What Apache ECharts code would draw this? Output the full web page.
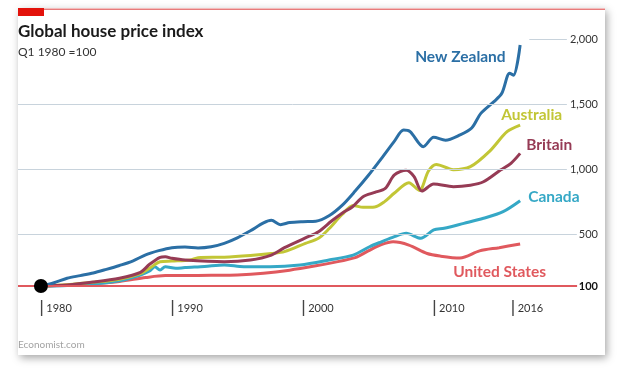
<!DOCTYPE html>
<html>
<head>
<meta charset="utf-8">
<script src="https://cdn.jsdelivr.net/npm/echarts@6/dist/echarts.min.js"></script>
<style>
  html, body { margin: 0; padding: 0; background: #fff; }
  #chart { width: 623px; height: 376px; }
</style>
</head>
<body>
<div id="chart"></div>
<script>
// Index values, Q1 1980 = 100 as [year, value]
const newZealand = [
  [1980, 100], [1981, 125], [1982, 160], [1983, 180], [1984, 200], [1985, 228],
  [1986, 258], [1987, 292], [1988, 340], [1989, 372], [1990, 395], [1991, 400],
  [1992, 393], [1993, 402], [1994, 428], [1995, 470], [1996, 525], [1997, 585],
  [1997.6, 605], [1998.3, 572], [1999, 588], [2000, 595], [2001, 598], [2002, 640],
  [2003, 720], [2004, 830], [2005, 950], [2006, 1080], [2007, 1215], [2007.7, 1300],
  [2008.2, 1288], [2009.2, 1172], [2010, 1244], [2010.9, 1222], [2012, 1262],
  [2012.9, 1315], [2013.6, 1428], [2014.6, 1518], [2015.2, 1582], [2015.8, 1736],
  [2016.1, 1722], [2016.6, 1954]
];
const australia = [
  [1980, 100], [1982, 110], [1984, 128], [1986, 152], [1987.6, 195], [1988.3, 236],
  [1989.1, 287], [1990, 292], [1991.4, 300], [1992, 318], [1994, 322], [1996, 335],
  [1997.6, 350], [1998.6, 364], [2000.2, 428], [2001.2, 467], [2002, 540], [2003, 650],
  [2003.85, 720], [2004.6, 705], [2005.5, 708], [2006.2, 745], [2007, 815], [2008.1, 895],
  [2008.9, 835], [2009.6, 985], [2010.2, 1035], [2011.5, 995], [2012.8, 1018], [2014.3, 1140],
  [2015.6, 1287], [2016.6, 1338]
];
const britain = [
  [1980, 100], [1982, 108], [1984, 130], [1986, 160], [1987.6, 205], [1988.3, 267],
  [1989.1, 320], [1989.5, 325], [1990, 313], [1991, 300], [1994, 287], [1996, 300],
  [1997.6, 338], [1998.6, 395], [2000.2, 470], [2001.2, 518], [2002.2, 600], [2003, 660],
  [2003.8, 710], [2004.6, 787], [2005.5, 820], [2006.3, 851], [2007, 955], [2007.9, 990],
  [2008.5, 941], [2009.1, 830], [2010, 885], [2011.5, 864], [2012.8, 875], [2013.8, 902],
  [2015.1, 992], [2015.9, 1044], [2016.6, 1120]
];
const canada = [
  [1980, 100], [1982, 104], [1984, 115], [1986, 140], [1987.6, 185], [1988.3, 215],
  [1988.7, 248], [1989.1, 223], [1989.5, 248], [1990.3, 236], [1991, 242], [1992.5, 250],
  [1994, 262], [1995.5, 248], [1997.5, 248], [1999.8, 262], [2002, 300], [2003.85, 338],
  [2005.1, 402], [2006, 440], [2007, 480], [2007.9, 505], [2009, 467], [2010, 531],
  [2010.8, 544], [2012.3, 582], [2013.8, 621], [2015.3, 672], [2016.6, 756]
];
const unitedStates = [
  [1980, 100], [1982, 106], [1984, 118], [1986, 135], [1988, 165], [1989.5, 180],
  [1991, 180], [1993, 182], [1995, 185], [1997, 198], [1999, 222], [2001, 255],
  [2002.2, 278], [2004, 318], [2005, 370], [2006, 418], [2006.9, 440], [2008.1, 415],
  [2009.5, 350], [2010.5, 330], [2012, 315], [2013.5, 370], [2015, 395], [2016.6, 423]
];
const baseYear = [[1980, 100]];

const yearLabels = [1980, 1990, 2000, 2010, 2016];
const yLabels = [500, 1000, 1500, 2000];

const X_MIN = 1978.25;
const X_MAX = 2022.7;
// horizontal rules: value, and where each starts and stops on the year axis
const rules = [
  { y: 100, from: X_MIN, to: 2020.95, color: '#e0595e', width: 2 },
  { y: 500, from: X_MIN, to: 2020.93, color: '#c8d3dc', width: 1 },
  { y: 1000, from: X_MIN, to: 2020.17, color: '#c8d3dc', width: 1 },
  { y: 1500, from: X_MIN, to: 2020.17, color: '#c8d3dc', width: 1 },
  { y: 2000, from: 2017.3, to: 2020.17, color: '#c8d3dc', width: 1 }
];

const FONT = 'Lato, "Open Sans", sans-serif';
const hidden = { show: false };

const chart = echarts.init(document.getElementById('chart'));

function countryLine(name, data, color, offset) {
  return {
    name: name,
    type: 'line',
    data: data,
    smooth: 0.3,
    showSymbol: false,
    lineStyle: { color: color, width: 3 },
    itemStyle: { color: color },
    endLabel: {
      show: true,
      formatter: name,
      color: color,
      fontFamily: FONT,
      fontWeight: 'bold',
      fontSize: 15.5,
      offset: offset
    }
  };
}

chart.setOption({
  animation: false,
  textStyle: { fontFamily: FONT },
  graphic: [
    {
      type: 'rect', z: -10, silent: true,
      shape: { x: 18, y: 8, width: 587, height: 347 },
      style: { fill: '#fff', shadowBlur: 8, shadowColor: 'rgba(0,0,0,0.35)', shadowOffsetX: 2, shadowOffsetY: 3 }
    },
    { type: 'rect', z: -9, silent: true, shape: { x: 18, y: 8.5, width: 587, height: 1.5 }, style: { fill: '#e77b7b' } },
    { type: 'rect', z: -9, silent: true, shape: { x: 18, y: 8, width: 26, height: 8 }, style: { fill: '#e3120b' } }
  ],
  title: [
    {
      text: 'Global house price index',
      subtext: 'Q1 1980 =100',
      left: 18, top: 23, padding: 0, itemGap: 6,
      textStyle: { fontFamily: FONT, fontSize: 17, fontWeight: 'bold', color: '#1a1a1a' },
      subtextStyle: { fontFamily: FONT, fontSize: 12, color: '#333' }
    },
    {
      text: 'Economist.com',
      left: 18, top: 340, padding: 0,
      textStyle: { fontFamily: FONT, fontSize: 10, fontWeight: 'normal', color: '#a3a3a3' }
    }
  ],
  grid: { left: 18, right: 23, top: 39, bottom: 77 },
  xAxis: {
    type: 'value',
    min: X_MIN,
    max: X_MAX,
    interval: 0.25,
    axisLine: hidden,
    axisTick: hidden,
    splitLine: hidden,
    axisLabel: {
      margin: 1,
      align: 'left',
      formatter: v => yearLabels.includes(v) ? '{bar|}{t|' + v + '}' : '',
      rich: {
        bar: { width: 1.4, height: 16, backgroundColor: '#444' },
        t: { padding: [0, 0, 0, 4], fontSize: 11, color: '#333', fontFamily: FONT }
      }
    }
  },
  yAxis: [
    {
      type: 'value', position: 'right', min: 0, max: 2000, interval: 500,
      axisLine: hidden, axisTick: hidden, splitLine: hidden,
      axisLabel: {
        inside: true, margin: 2,
        color: '#333', fontSize: 11, fontFamily: FONT,
        formatter: v => yLabels.includes(v) ? v.toLocaleString('en-US') : ''
      }
    },
    {
      type: 'value', position: 'right', min: 0, max: 2000, interval: 100,
      axisLine: hidden, axisTick: hidden, splitLine: hidden,
      axisLabel: {
        inside: true, margin: 2,
        color: '#111', fontSize: 11, fontWeight: 'bold', fontFamily: FONT,
        formatter: v => v === 100 ? '100' : ''
      }
    }
  ],
  series: [
    {
      type: 'line', data: [], z: 1, silent: true,
      markLine: {
        silent: true, symbol: 'none', label: hidden,
        data: rules.map(r => [
          { coord: [r.from, r.y], lineStyle: { color: r.color, width: r.width, type: 'solid' } },
          { coord: [r.to, r.y] }
        ])
      }
    },
    countryLine('United States', unitedStates, '#e0595e', [-75, 28]),
    countryLine('Canada', canada, '#35a8c6', [0, -4]),
    countryLine('Australia', australia, '#c2c636', [-27, -10]),
    countryLine('Britain', britain, '#963b55', [-2, -8]),
    countryLine('New Zealand', newZealand, '#2b6fa5', [-113, 12]),
    {
      type: 'scatter',
      data: baseYear,
      symbolSize: 14,
      itemStyle: { color: '#000', opacity: 1 },
      z: 5
    }
  ]
});
</script>
</body>
</html>
